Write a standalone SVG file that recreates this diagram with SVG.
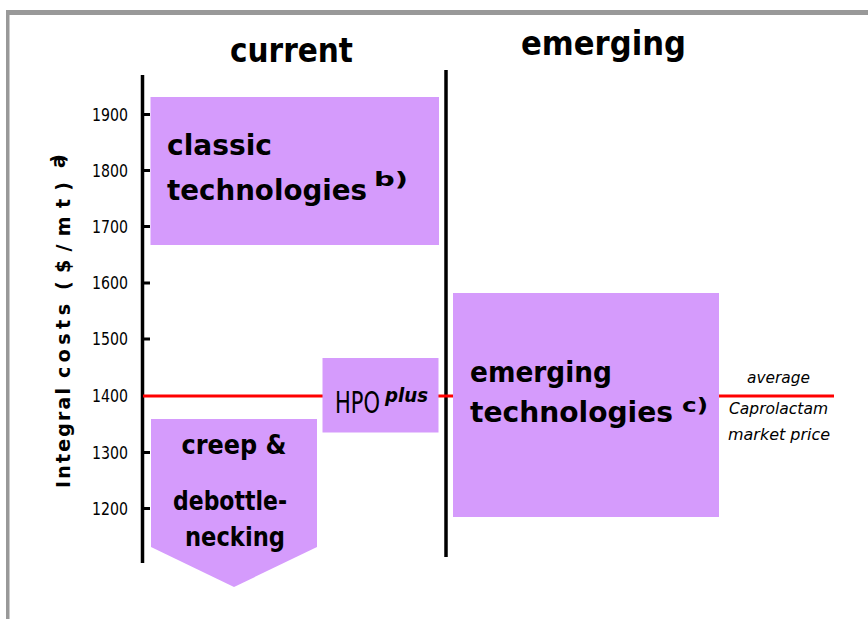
<svg xmlns="http://www.w3.org/2000/svg" width="868" height="619" viewBox="0 0 868 619">
  <style>
    .frame { fill: #999999; }
    .axis { stroke: #000000; stroke-width: 3.5; fill: none; }
    .tick { stroke: #000000; stroke-width: 3; }
    .price { stroke: #FF0000; stroke-width: 3; fill: none; }
    .box { fill: #D59BFC; }
    .bold { font-family: "DejaVu Sans", Verdana, sans-serif; font-weight: bold; fill: #000000; }
    .num { font-family: "DejaVu Sans", Verdana, sans-serif; font-size: 17px; fill: #000000; text-anchor: end; }
    .note { font-family: "DejaVu Sans", Verdana, sans-serif; font-style: italic; font-size: 16px; fill: #000000; text-anchor: middle; }
    .ylab { font-family: "DejaVu Sans", Verdana, sans-serif; font-weight: bold; font-size: 19px; fill: #000000; }
  </style>

  <!-- slide frame -->
  <rect class="frame" x="6" y="10" width="862" height="5"/>
  <rect class="frame" x="6" y="10" width="3.5" height="609"/>

  <!-- column headings -->
  <text class="bold" x="291.5" y="61.5" font-size="34" text-anchor="middle" textLength="123" lengthAdjust="spacingAndGlyphs">current</text>
  <text class="bold" x="603.5" y="54.5" font-size="34" text-anchor="middle" textLength="165" lengthAdjust="spacingAndGlyphs">emerging</text>

  <!-- cost axis -->
  <g id="axis">
    <line class="axis" x1="142.5" y1="75" x2="142.5" y2="563"/>
    <line class="tick" x1="142" y1="114.5" x2="150" y2="114.5"/>
    <line class="tick" x1="142" y1="170.5" x2="150" y2="170.5"/>
    <line class="tick" x1="142" y1="226.5" x2="150" y2="226.5"/>
    <line class="tick" x1="142" y1="283" x2="150" y2="283"/>
    <line class="tick" x1="142" y1="339" x2="150" y2="339"/>
    <line class="tick" x1="142" y1="452.5" x2="150" y2="452.5"/>
    <line class="tick" x1="142" y1="508.5" x2="150" y2="508.5"/>
    <text class="num" x="128" y="120.5" textLength="36" lengthAdjust="spacingAndGlyphs">1900</text>
    <text class="num" x="128" y="176.5" textLength="36" lengthAdjust="spacingAndGlyphs">1800</text>
    <text class="num" x="128" y="232.5" textLength="36" lengthAdjust="spacingAndGlyphs">1700</text>
    <text class="num" x="128" y="289" textLength="36" lengthAdjust="spacingAndGlyphs">1600</text>
    <text class="num" x="128" y="345" textLength="36" lengthAdjust="spacingAndGlyphs">1500</text>
    <text class="num" x="128" y="401.5" textLength="36" lengthAdjust="spacingAndGlyphs">1400</text>
    <text class="num" x="128" y="458.5" textLength="36" lengthAdjust="spacingAndGlyphs">1300</text>
    <text class="num" x="128" y="514.5" textLength="36" lengthAdjust="spacingAndGlyphs">1200</text>
    <!-- vertical axis title, one piece per word -->
    <text class="ylab" transform="translate(69.5,488) rotate(-90)" textLength="100" lengthAdjust="spacing">Integral</text>
    <text class="ylab" transform="translate(69.5,378) rotate(-90)" textLength="74" lengthAdjust="spacing">costs</text>
    <text class="ylab" transform="translate(69.5,290) rotate(-90)" textLength="108" lengthAdjust="spacing">($/mt)</text>
    <text class="ylab" transform="translate(65,168) rotate(-90)" font-size="11" textLength="14" lengthAdjust="spacing">a)</text>
  </g>

  <!-- column divider -->
  <line class="axis" x1="446" y1="70" x2="446" y2="557"/>

  <!-- market price line -->
  <g id="connectors">
    <line class="price" x1="143" y1="396" x2="834" y2="396"/>
  </g>

  <g id="classic">
    <rect class="box" x="150.5" y="97" width="288.5" height="148"/>
    <text class="bold" x="167" y="155" font-size="28" textLength="105" lengthAdjust="spacingAndGlyphs">classic</text>
    <text class="bold" x="167" y="200" font-size="28" textLength="200" lengthAdjust="spacingAndGlyphs">technologies</text>
    <text class="bold" x="374" y="186" font-size="19" textLength="34" lengthAdjust="spacingAndGlyphs">b)</text>
  </g>

  <g id="hpoplus">
    <rect class="box" x="322.5" y="358" width="116" height="74.5"/>
    <!-- narrow HPO wordmark -->
    <text transform="translate(335,412.5) scale(0.7,1)" font-family="'DejaVu Sans', Verdana, sans-serif" font-size="30">HPO</text>
    <text x="385" y="401.5" font-family="'DejaVu Sans', Verdana, sans-serif" font-weight="bold" font-style="italic" font-size="20" textLength="43" lengthAdjust="spacingAndGlyphs">plus</text>
  </g>

  <g id="emerging">
    <rect class="box" x="453" y="293" width="266" height="224"/>
    <text class="bold" x="470" y="382" font-size="29" textLength="142" lengthAdjust="spacingAndGlyphs">emerging</text>
    <text class="bold" x="470" y="422" font-size="29" textLength="203" lengthAdjust="spacingAndGlyphs">technologies</text>
    <text class="bold" x="682" y="412" font-size="20" textLength="26" lengthAdjust="spacingAndGlyphs">c)</text>
  </g>

  <g id="creep">
    <polygon class="box" points="151,419 317,419 317,547 234,587 151,547"/>
    <text class="bold" x="234" y="454" font-size="27" text-anchor="middle" textLength="105" lengthAdjust="spacingAndGlyphs">creep &amp;</text>
    <text class="bold" x="230" y="510" font-size="27" text-anchor="middle" textLength="114" lengthAdjust="spacingAndGlyphs">debottle-</text>
    <text class="bold" x="235" y="546" font-size="27" text-anchor="middle" textLength="100" lengthAdjust="spacingAndGlyphs">necking</text>
  </g>

  <g id="price-label">
    <text class="note" x="778.5" y="383" textLength="63" lengthAdjust="spacingAndGlyphs">average</text>
    <text class="note" x="778.5" y="414" textLength="99" lengthAdjust="spacingAndGlyphs">Caprolactam</text>
    <text class="note" x="779" y="440" textLength="102" lengthAdjust="spacingAndGlyphs">market price</text>
  </g>
</svg>
